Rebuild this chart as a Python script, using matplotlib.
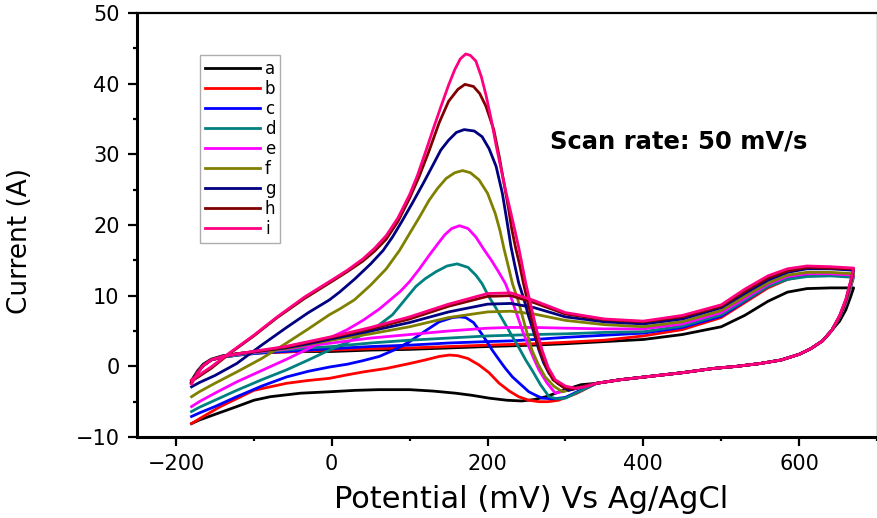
import matplotlib
matplotlib.use("Agg")
import matplotlib.pyplot as plt
from matplotlib.ticker import MultipleLocator

plt.rcParams["font.family"] = ["DejaVu Sans"]

labels = ["a", "b", "c", "d", "e", "f", "g", "h", "i"]
colors = ["#000000", "#FF0000", "#0000FF", "#008080", "#FF00FF",
          "#808000", "#000080", "#800000", "#FF0080"]

# forward sweep, -180 -> 670 mV (same potentials for every curve)
fwd_E = [-180, -172, -165, -155, -140, -120, -90, -60, -30, 0, 50, 100, 150, 200,
         230, 260, 300, 350, 400, 450, 500, 530, 560, 585, 610, 640, 670]
fwd_a = [-2.0, -0.6, 0.3, 1.0, 1.5, 1.8, 2.0, 2.1, 2.1, 2.1, 2.3, 2.4, 2.6, 2.8,
         2.9, 3.0, 3.2, 3.5, 3.8, 4.5, 5.6, 7.2, 9.2, 10.5, 11.0, 11.1, 11.1]
fwd_b = [-2.3, -0.8, 0.1, 0.9, 1.3, 1.6, 1.9, 2.0, 2.2, 2.3, 2.5, 2.6, 2.8, 3.0,
         3.1, 3.2, 3.4, 3.7, 4.3, 5.2, 6.9, 9.0, 11.1, 12.3, 12.9, 13.0, 12.9]
fwd_c = [-2.3, -0.8, 0.1, 0.9, 1.3, 1.6, 1.9, 2.1, 2.3, 2.5, 2.8, 3.0, 3.3, 3.5,
         3.6, 3.8, 4.1, 4.4, 4.7, 5.5, 7.1, 9.2, 11.3, 12.5, 13.0, 13.1, 13.0]
fwd_d = [-2.3, -0.8, 0.1, 0.9, 1.3, 1.6, 2.0, 2.3, 2.6, 2.8, 3.3, 3.7, 4.0, 4.3,
         4.4, 4.5, 4.6, 4.8, 4.9, 5.7, 7.3, 9.3, 11.3, 12.3, 12.7, 12.8, 12.6]
fwd_e = [-2.3, -0.8, 0.1, 0.9, 1.4, 1.7, 2.1, 2.4, 2.9, 3.3, 4.0, 4.5, 5.0, 5.4,
         5.5, 5.5, 5.4, 5.3, 5.3, 6.0, 7.6, 9.6, 11.6, 12.7, 13.1, 13.1, 12.9]
fwd_f = [-2.3, -0.8, 0.1, 0.9, 1.4, 1.8, 2.2, 2.5, 3.1, 3.7, 4.6, 5.6, 6.9, 7.7,
         7.8, 7.4, 6.5, 5.9, 5.6, 6.3, 7.9, 9.9, 11.8, 12.9, 13.3, 13.3, 13.1]
fwd_g = [-2.3, -0.8, 0.1, 0.9, 1.4, 1.8, 2.2, 2.6, 3.2, 3.9, 5.0, 6.2, 7.7, 8.8,
         8.9, 8.3, 7.0, 6.3, 6.0, 6.7, 8.3, 10.3, 12.2, 13.3, 13.8, 13.8, 13.6]
fwd_h = [-2.3, -0.8, 0.1, 0.9, 1.4, 1.8, 2.2, 2.7, 3.4, 4.1, 5.3, 6.7, 8.5, 9.9,
         10.0, 9.0, 7.4, 6.6, 6.3, 7.0, 8.5, 10.6, 12.5, 13.5, 14.0, 13.9, 13.8]
fwd_i = [-2.5, -0.9, 0.1, 0.9, 1.4, 1.8, 2.3, 2.8, 3.5, 4.2, 5.5, 7.0, 8.8, 10.3,
         10.4, 9.3, 7.6, 6.7, 6.4, 7.2, 8.7, 10.9, 12.8, 13.8, 14.2, 14.1, 13.9]

# reverse sweep: turn at 670 mV, shared lower branch, then each curve's peak part
head_E = [670, 666, 660, 652]
head_a = [11.1, 9.8, 8.0, 6.4]
head_b = [12.9, 11.3, 9.0, 7.0]
head_c = [13.0, 11.3, 9.0, 7.0]
head_d = [12.6, 11.1, 8.9, 6.9]
head_e = [12.9, 11.3, 9.0, 7.0]
head_f = [13.1, 11.4, 9.1, 7.0]
head_g = [13.6, 11.8, 9.3, 7.1]
head_h = [13.8, 11.9, 9.4, 7.1]
head_i = [13.9, 12.0, 9.5, 7.2]

tail_E = [642, 630, 615, 600, 577, 550, 520, 490, 450, 410, 370, 340]
tail_I = [5.1, 3.6, 2.5, 1.7, 0.9, 0.4, 0.0, -0.3, -0.9, -1.4, -1.9, -2.4]

peak_E_a = [320, 300, 275, 260, 244, 225, 202, 180, 159, 130, 100, 60, 30, -3, -40,
            -79, -100, -122, -150, -170, -180]
peak_I_a = [-2.6, -3.3, -4.3, -4.7, -4.9, -4.8, -4.5, -4.1, -3.8, -3.5, -3.3, -3.3,
            -3.4, -3.6, -3.8, -4.3, -4.8, -5.7, -6.8, -7.6, -8.1]
peak_E_b = [315, 291, 278, 266, 253, 240, 228, 215, 202, 189, 175, 162, 151, 138, 120,
            100, 70, 40, 20, -3, -30, -58, -100, -143, -165, -180]
peak_I_b = [-3.8, -4.8, -5.0, -5.0, -4.8, -4.3, -3.5, -2.4, -0.9, 0.2, 1.1, 1.5, 1.6,
            1.4, 0.9, 0.4, -0.3, -0.8, -1.2, -1.7, -2.0, -2.4, -3.4, -5.7, -7.1, -8.1]
peak_E_c = [315, 300, 285, 270, 262, 253, 243, 232, 223, 215, 206, 198, 190, 182, 172,
            164, 155, 138, 120, 100, 80, 61, 40, 20, -3, -30, -58, -90, -122, -150,
            -170, -180]
peak_I_c = [-3.6, -4.4, -4.6, -4.5, -4.1, -3.6, -2.6, -1.5, -0.3, 0.9, 2.3, 3.7, 5.0,
            6.2, 6.9, 7.0, 6.9, 6.3, 5.0, 3.5, 2.3, 1.4, 0.8, 0.3, -0.1, -0.7, -1.5,
            -2.8, -4.3, -5.7, -6.6, -7.1]
peak_E_d = [300, 289, 279, 268, 258, 249, 241, 232, 221, 210, 202, 193, 185, 175, 161,
            148, 134, 120, 108, 93, 78, 60, 40, 20, -3, -30, -58, -90, -122, -150,
            -170, -180]
peak_I_d = [-4.5, -4.6, -4.3, -2.6, -0.7, 0.9, 2.5, 4.2, 6.3, 8.4, 9.8, 11.7, 12.9,
            14.0, 14.5, 14.2, 13.4, 12.4, 11.3, 9.3, 7.3, 5.8, 4.5, 3.4, 2.3, 0.9,
            -0.5, -1.9, -3.4, -4.8, -5.8, -6.4]
peak_E_e = [287, 276, 266, 259, 253, 246, 240, 232, 223, 214, 205, 195, 185, 175, 164,
            154, 145, 138, 125, 112, 100, 88, 74, 61, 40, 20, -3, -30, -58, -90, -122,
            -150, -170, -180]
peak_I_e = [-3.8, -2.3, -0.5, 1.2, 2.8, 4.7, 6.6, 9.2, 11.7, 13.4, 15.0, 16.6, 18.3,
            19.5, 19.9, 19.5, 18.6, 17.6, 15.7, 13.7, 12.0, 10.6, 9.3, 8.1, 6.5, 5.2,
            4.0, 2.5, 1.0, -0.6, -2.2, -3.8, -5.0, -5.7]
peak_E_f = [296, 285, 274, 265, 257, 251, 245, 239, 232, 227, 221, 216, 210, 200, 189,
            178, 168, 158, 147, 136, 125, 112, 100, 87, 70, 50, 29, 10, -3, -30, -58,
            -90, -122, -150, -170, -180]
peak_I_f = [-3.6, -2.8, -1.5, 0.3, 2.3, 4.6, 7.0, 9.4, 11.7, 14.0, 16.7, 19.2, 21.6,
            24.5, 26.4, 27.4, 27.7, 27.4, 26.6, 25.2, 23.5, 21.0, 18.8, 16.4, 13.8,
            11.5, 9.4, 8.1, 7.3, 5.3, 3.3, 1.1, -0.8, -2.4, -3.6, -4.3]
peak_E_g = [304, 290, 279, 272, 266, 260, 253, 247, 240, 235, 230, 225, 219, 211, 202,
            193, 183, 170, 160, 150, 140, 130, 118, 104, 90, 78, 66, 50, 30, 10, -3,
            -30, -58, -90, -122, -150, -170, -180]
peak_I_g = [-3.4, -2.4, -1.0, 0.5, 2.3, 4.6, 7.0, 9.4, 11.8, 14.3, 17.0, 20.5, 24.5,
            28.3, 30.8, 32.5, 33.3, 33.5, 33.1, 32.0, 30.6, 28.5, 26.0, 23.2, 20.5,
            18.3, 16.4, 14.5, 12.4, 10.5, 9.4, 7.6, 5.5, 3.0, 0.4, -1.3, -2.3, -2.9]
peak_E_h = [310, 298, 284, 275, 267, 261, 256, 251, 246, 241, 236, 231, 227, 221, 215,
            208, 198, 190, 182, 171, 162, 150, 138, 125, 112, 100, 85, 70, 55, 40, 20,
            0, -35, -70, -100, -130, -155, -170, -180]
peak_I_h = [-3.2, -3.0, -1.9, 0.0, 2.3, 4.6, 7.0, 9.4, 11.8, 14.5, 16.8, 19.5, 22.3,
            26.0, 29.7, 33.5, 36.8, 38.6, 39.6, 39.9, 39.2, 37.5, 34.5, 30.5, 26.8,
            23.8, 20.5, 18.0, 16.3, 14.9, 13.4, 12.0, 9.6, 6.9, 4.3, 1.9, -0.3, -1.4,
            -2.1]
peak_E_i = [325, 313, 300, 287, 278, 270, 264, 259, 254, 249, 244, 240, 235, 230, 224,
            218, 211, 205, 198, 192, 185, 178, 172, 165, 158, 150, 140, 130, 120, 110,
            100, 85, 70, 55, 40, 20, 0, -35, -70, -100, -130, -155, -170, -180]
peak_I_i = [-2.9, -3.1, -2.8, -1.9, -0.2, 2.3, 4.7, 7.0, 9.4, 11.8, 14.6, 16.8, 19.3,
            21.7, 24.5, 27.6, 31.3, 34.8, 38.4, 41.0, 43.2, 44.0, 44.2, 43.5, 42.0,
            39.8, 36.7, 33.5, 30.2, 27.0, 24.3, 21.0, 18.5, 16.7, 15.2, 13.6, 12.2,
            9.8, 7.0, 4.4, 2.0, -0.1, -1.2, -1.9]

fwd_all = [fwd_a, fwd_b, fwd_c, fwd_d, fwd_e, fwd_f, fwd_g, fwd_h, fwd_i]
head_all = [head_a, head_b, head_c, head_d, head_e, head_f, head_g, head_h, head_i]
peakE_all = [peak_E_a, peak_E_b, peak_E_c, peak_E_d, peak_E_e, peak_E_f, peak_E_g,
             peak_E_h, peak_E_i]
peakI_all = [peak_I_a, peak_I_b, peak_I_c, peak_I_d, peak_I_e, peak_I_f, peak_I_g,
             peak_I_h, peak_I_i]

fig = plt.figure(figsize=(8.78, 5.18), dpi=100)
ax = fig.add_axes([137 / 878, 1 - 437 / 518, 740 / 878, 424 / 518])

for lab, col, fw, hd, pE, pI in zip(labels, colors, fwd_all, head_all, peakE_all, peakI_all):
    E = fwd_E + head_E + tail_E + pE
    I = fw + hd + tail_I + pI
    ax.plot(E, I, color=col, lw=2.0, label=lab, solid_joinstyle="round")

ax.set_xlim(-250, 700)
ax.set_ylim(-10, 50)
ax.set_xticks([-200, 0, 200, 400, 600])
ax.xaxis.set_minor_locator(MultipleLocator(100))
ax.yaxis.set_major_locator(MultipleLocator(10))
ax.yaxis.set_minor_locator(MultipleLocator(5))
ax.tick_params(which="major", direction="out", length=6.5, width=1.6, labelsize=15, pad=6)
ax.tick_params(which="minor", direction="out", length=3.2, width=1.6)

for side in ["left", "bottom"]:
    ax.spines[side].set_linewidth(2.2)
ax.spines["top"].set_linewidth(1.6)
ax.spines["right"].set_linewidth(1.0)
ax.spines["right"].set_color("#888888")

ax.set_xlabel("Potential (mV) Vs Ag/AgCl", fontsize=22)
ax.set_ylabel("Current (A)", fontsize=19)
ax.xaxis.set_label_coords(0.532, -0.113)
ax.yaxis.set_label_coords(-0.14, 0.462)

ax.text(0.558, 0.698, "Scan rate: 50 mV/s", transform=ax.transAxes,
        ha="left", va="center", fontsize=17.5, fontweight="bold")

leg = ax.legend(loc="upper left", bbox_to_anchor=(0.085, 0.901), borderaxespad=0,
                frameon=True, fancybox=False, edgecolor="#999999", fontsize=12,
                handlelength=3.3, handletextpad=0.3, labelspacing=0.12, borderpad=0.3)
leg.get_frame().set_linewidth(1.0)

fig.savefig("out.png", dpi=100, facecolor="white")
